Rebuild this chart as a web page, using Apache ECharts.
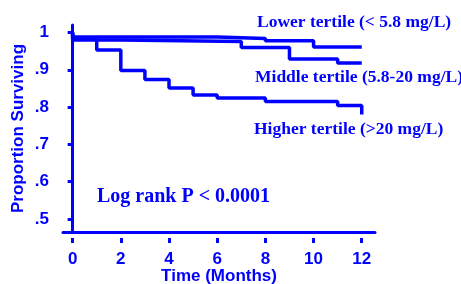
<!DOCTYPE html>
<html>
<head>
<meta charset="utf-8">
<script src="https://cdn.jsdelivr.net/npm/echarts@6/dist/echarts.min.js"></script>
<style>
  html, body { margin: 0; padding: 0; background: #fff; }
  #chart { width: 461px; height: 284px; }
</style>
</head>
<body>
<div id="chart"></div>
<script>
// tick values
const xTicks = [0, 2, 4, 6, 8, 10, 12];
const yTicks = [0.5, 0.6, 0.7, 0.8, 0.9, 1];

// KM curves: [month, proportion surviving]
const lowerTertile = [[0, 1], [0, 0.988], [6, 0.984], [8, 0.978], [10, 0.961], [12, 0.961]];
const middleTertile = [[0, 1], [0, 0.98], [2, 0.976], [7, 0.96], [9, 0.929], [11, 0.918], [12, 0.918]];
const higherTertile = [[0, 1], [0, 0.985], [1, 0.953], [2, 0.898], [3, 0.874], [4, 0.851], [5, 0.832],
  [6, 0.824], [8, 0.815], [11, 0.804], [12, 0.78]];

const blue = '#0000ff';
const sans = 'Liberation Sans';

const chart = echarts.init(document.getElementById('chart'));

// 曲线的公共样式
function kmSeries(name, data) {
  return {
    name: name,
    type: 'line',
    step: 'end',
    data: data,
    symbol: 'none',
    xAxisIndex: 0,
    lineStyle: { color: blue, width: 3.5 },
    animation: false
  };
}

// 图中的说明文字
function note(text, left, top, size) {
  return { type: 'text', left: left, top: top, style: { text: text, fill: blue, font: 'bold ' + size + 'px "Liberation Serif"' } };
}

chart.setOption({
  animation: false,
  grid: { left: 63, top: 25, right: 86, bottom: 52, containLabel: false, outerBoundsMode: 'none' },
  xAxis: [
    {
      type: 'value',
      min: -0.4,
      max: 12.55,
      name: 'Time (Months)',
      nameLocation: 'middle',
      nameGap: 36,
      nameMoveOverlap: false,
      nameTextStyle: { color: blue, fontFamily: sans, fontWeight: 'bold', fontSize: 17 },
      axisLine: { show: true, lineStyle: { color: blue, width: 3 } },
      axisTick: { show: false },
      axisLabel: { show: false },
      splitLine: { show: false }
    },
    {
      // 下方的刻度和数字（与轴线分开）
      type: 'value',
      min: -0.4,
      max: 12.55,
      position: 'bottom',
      offset: 6,
      axisLine: { show: false },
      axisTick: { show: true, length: 5, customValues: xTicks, lineStyle: { color: blue, width: 3 } },
      axisLabel: {
        show: true, customValues: xTicks, margin: 13,
        color: blue, fontFamily: sans, fontWeight: 'bold', fontSize: 17
      },
      splitLine: { show: false }
    }
  ],
  yAxis: {
    type: 'value',
    min: 0.465,
    max: 1.02,
    name: 'Proportion Surviving',
    nameLocation: 'middle',
    nameGap: 36,
    nameMoveOverlap: false,
    nameTextStyle: { color: blue, fontFamily: sans, fontWeight: 'bold', fontSize: 17 },
    axisLine: { show: true, lineStyle: { color: blue, width: 3 } },
    axisTick: { show: true, length: 5, customValues: yTicks, lineStyle: { color: blue, width: 3 } },
    axisLabel: {
      customValues: yTicks,
      margin: 14,
      color: blue, fontFamily: sans, fontWeight: 'bold', fontSize: 17,
      formatter: v => (v >= 1 ? '1' : String(Math.round(v * 10) / 10).replace(/^0/, ''))
    },
    splitLine: { show: false }
  },
  graphic: [
    note('Lower tertile (< 5.8 mg/L)', 257, 13, 17.5),
    note('Middle tertile (5.8-20 mg/L)', 255, 68, 17.5),
    note('Higher tertile (>20 mg/L)', 254, 120, 17.5),
    note('Log rank P < 0.0001', 97, 187, 20)
  ],
  series: [
    kmSeries('Lower tertile', lowerTertile),
    kmSeries('Middle tertile', middleTertile),
    kmSeries('Higher tertile', higherTertile)
  ]
});
</script>
</body>
</html>
